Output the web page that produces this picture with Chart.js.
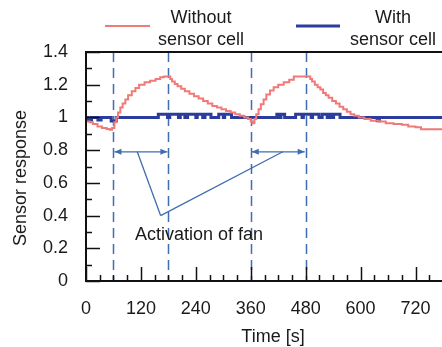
<!DOCTYPE html>
<html>
<head>
<meta charset="utf-8">
<script src="https://cdn.jsdelivr.net/npm/chart.js@4/dist/chart.umd.min.js"></script>
<style>
	html, body { margin: 0; padding: 0; background: #fff; overflow: hidden; }
	#wrap { width: 460px; height: 347px; }
</style>
</head>
<body>
<div id="wrap"><canvas id="chart" width="460" height="347"></canvas></div>
<script>

// Without sensor cell (red)
var redTimes		=	[0, 8, 15, 25, 35, 45, 52, 57, 62, 66, 70, 75, 80, 86, 92, 100, 108, 116, 128, 140, 152, 162, 170, 184, 188, 194, 200, 208, 216, 226, 236, 246, 256, 266, 276, 286, 296, 306, 316, 326, 336, 346, 354, 360, 364, 368, 372, 377, 382, 388, 394, 402, 410, 420, 432, 444, 454, 490, 494, 500, 506, 512, 518, 524, 530, 538, 546, 554, 562, 570, 578, 586, 596, 608, 622, 640, 655, 672, 690, 704, 720, 732, 780];
var redValues		=	[0.975, 0.97, 0.96, 0.945, 0.935, 0.93, 0.925, 0.935, 0.97, 1.0, 1.03, 1.06, 1.085, 1.11, 1.135, 1.16, 1.18, 1.2, 1.215, 1.225, 1.235, 1.245, 1.25, 1.235, 1.22, 1.205, 1.19, 1.175, 1.16, 1.145, 1.13, 1.115, 1.1, 1.085, 1.07, 1.06, 1.05, 1.04, 1.03, 1.02, 1.01, 1.0, 0.99, 0.975, 0.965, 0.99, 1.02, 1.05, 1.08, 1.11, 1.14, 1.165, 1.185, 1.2, 1.215, 1.23, 1.25, 1.235, 1.22, 1.2, 1.185, 1.17, 1.15, 1.135, 1.12, 1.1, 1.085, 1.065, 1.05, 1.035, 1.02, 1.01, 1.0, 0.99, 0.98, 0.975, 0.965, 0.96, 0.955, 0.945, 0.94, 0.928, 0.928];

// With sensor cell (blue)
var blueTimes		=	[0, 5, 12, 26, 33, 55, 66, 158, 178, 183, 202, 206, 216, 222, 240, 243, 255, 260, 273, 290, 300, 303, 318, 417, 422, 426, 434, 458, 472, 475, 492, 495, 509, 516, 527, 532, 538, 541, 555, 636, 641, 780];
var blueValues		=	[1.0, 0.985, 1.0, 0.985, 1.0, 0.978, 1.0, 1.02, 1.0, 1.02, 1.0, 1.02, 1.0, 1.02, 1.0, 1.02, 1.0, 1.02, 1.0, 1.02, 1.0, 1.02, 1.0, 1.02, 1.0, 1.02, 1.0, 1.02, 1.0, 1.02, 1.0, 1.02, 1.0, 1.02, 1.0, 1.02, 1.0, 1.02, 1.0, 0.98, 1.0, 1.0];

// Fan switched on / off
var fanOn			=	[60, 360];
var fanOff			=	[180, 480];

var xTickLabels		=	[0, 120, 240, 360, 480, 600, 720];
var yTickLabels		=	[0, 0.2, 0.4, 0.6, 0.8, 1, 1.2, 1.4];

var seriesNames		=	[["Without", "sensor cell"], ["With", "sensor cell"]];

var annotationText	=	"Activation of fan";
var arrowLevel		=	0.79;
var leaderStart		=	[[112, 0.79], [430, 0.79]];
var leaderJoin		=	[163, 0.40];
var textAnchor		=	[247, 0.28];

var RED				=	"#f07a78";
var BLUE			=	"#2b3c9c";
var GUIDE			=	"#3f6db0";
var FONT			=	"Liberation Sans, Arial, sans-serif";

function toPoints(times, values) {
	var out = [];
	for (var i in times) out.push({ x: times[i], y: values[i] });
	return out;
}

/**
 * Frame, inward ticks, fan markers, annotation and legend
 */
var decorations = {
	id: "decorations",

	beforeDatasetsDraw: function (chart) {
		var ctx		=	chart.ctx;
		var area	=	chart.chartArea;
		var x		=	chart.scales.x;

		ctx.save();
		ctx.strokeStyle = GUIDE;
		ctx.lineWidth = 1.5;
		ctx.setLineDash([10, 6]);
		fanOn.concat(fanOff).forEach(function (t) {
			var px = Math.round(x.getPixelForValue(t)) + 0.5;
			ctx.beginPath();
			ctx.moveTo(px, area.top);
			ctx.lineTo(px, area.bottom);
			ctx.stroke();
		});
		ctx.restore();
	},

	afterDraw: function (chart) {
		var ctx		=	chart.ctx;
		var area	=	chart.chartArea;
		var x		=	chart.scales.x;
		var y		=	chart.scales.y;

		ctx.save();

		// frame
		ctx.strokeStyle = "#111";
		ctx.lineWidth = 2;
		ctx.strokeRect(area.left, area.top, area.right - area.left, area.bottom - area.top);

		// inward ticks
		ctx.lineWidth = 1.5;
		for (var v = 0; v <= 14; v++) {
			var py = Math.round(y.getPixelForValue(v / 10)) + 0.5;
			var len = v % 2 === 0 ? 14 : 6;
			ctx.beginPath();
			ctx.moveTo(area.left, py);
			ctx.lineTo(area.left + len, py);
			ctx.stroke();
		}
		for (var t = 0; t <= 780; t += 30) {
			var px = Math.round(x.getPixelForValue(t)) + 0.5;
			var len = t % 120 === 0 ? 14 : 6;
			ctx.beginPath();
			ctx.moveTo(px, area.bottom);
			ctx.lineTo(px, area.bottom - len);
			ctx.stroke();
		}

		// arrows
		ctx.strokeStyle = GUIDE;
		ctx.fillStyle = GUIDE;
		ctx.lineWidth = 1.3;
		var ay = y.getPixelForValue(arrowLevel);
		fanOn.forEach(function (t, i) {
			var x1 = x.getPixelForValue(t) + 1;
			var x2 = x.getPixelForValue(fanOff[i]) - 1;
			ctx.beginPath();
			ctx.moveTo(x1, ay);
			ctx.lineTo(x2, ay);
			ctx.stroke();
			[[x1, 1], [x2, -1]].forEach(function (a) {
				ctx.beginPath();
				ctx.moveTo(a[0], ay);
				ctx.lineTo(a[0] + a[1] * 7, ay - 3);
				ctx.lineTo(a[0] + a[1] * 7, ay + 3);
				ctx.closePath();
				ctx.fill();
			});
		});

		// leader lines
		var jx = x.getPixelForValue(leaderJoin[0]);
		var jy = y.getPixelForValue(leaderJoin[1]);
		leaderStart.forEach(function (p) {
			ctx.beginPath();
			ctx.moveTo(x.getPixelForValue(p[0]), y.getPixelForValue(p[1]));
			ctx.lineTo(jx, jy);
			ctx.stroke();
		});

		// annotation text
		ctx.fillStyle = "#1a1a1a";
		ctx.font = "18px " + FONT;
		ctx.textAlign = "center";
		ctx.textBaseline = "middle";
		ctx.fillText(annotationText, x.getPixelForValue(textAnchor[0]), y.getPixelForValue(textAnchor[1]));

		// axis titles
		ctx.fillText("Time [s]", 273, 337);
		ctx.save();
		ctx.translate(21, 178);
		ctx.rotate(-Math.PI / 2);
		ctx.fillText("Sensor response", 0, 0);
		ctx.restore();

		// legend
		var legend = [
			{ color: RED, width: 2, line: [105, 150], text: 201 },
			{ color: BLUE, width: 3, line: [296, 340], text: 393 }
		];
		legend.forEach(function (item, i) {
			ctx.strokeStyle = item.color;
			ctx.lineWidth = item.width;
			ctx.beginPath();
			ctx.moveTo(item.line[0], 26);
			ctx.lineTo(item.line[1], 26);
			ctx.stroke();
			ctx.fillStyle = "#1a1a1a";
			ctx.fillText(seriesNames[i][0], item.text, 18);
			ctx.fillText(seriesNames[i][1], item.text, 40);
		});

		ctx.restore();
	}
};

/**
 * Renders the chart
 */
function renderChart() {

	var config = {
		type: "line",
		data: {
			datasets: [
				{
					label: seriesNames[0].join(" "),
					data: toPoints(redTimes, redValues),
					borderColor: RED,
					borderWidth: 2,
					stepped: true,
					pointRadius: 0,
					fill: false
				},
				{
					label: seriesNames[1].join(" "),
					data: toPoints(blueTimes, blueValues),
					borderColor: BLUE,
					borderWidth: 3,
					stepped: true,
					pointRadius: 0,
					fill: false
				}
			]
		},
		options: {
			responsive: false,
			animation: false,
			layout: { padding: { left: 0, top: 52, right: 11, bottom: 0 } },
			plugins: {
				legend: { display: false },
				tooltip: { enabled: false }
			},
			scales: {
				x: {
					type: "linear",
					min: 0,
					max: 780,
					grid: { display: false, drawTicks: false },
					border: { display: false },
					afterFit: function (scale) { scale.height = 66; },
					ticks: {
						stepSize: 30,
						autoSkip: false,
						maxRotation: 0,
						padding: 17,
						color: "#1a1a1a",
						font: { family: FONT, size: 18 },
						callback: function (v) {
							return xTickLabels.indexOf(v) > -1 ? String(v) : "";
						}
					}
				},
				y: {
					min: 0,
					max: 1.4,
					grid: { display: false, drawTicks: false },
					border: { display: false },
					afterFit: function (scale) { scale.width = 86; },
					ticks: {
						stepSize: 0.1,
						autoSkip: false,
						padding: 18,
						color: "#1a1a1a",
						font: { family: FONT, size: 18 },
						callback: function (v) {
							var r = Math.round(v * 10) / 10;
							return yTickLabels.indexOf(r) > -1 ? String(r) : "";
						}
					}
				}
			}
		},
		plugins: [decorations]
	};

	new Chart(document.getElementById("chart"), config);
}

renderChart();

</script>
</body>
</html>
